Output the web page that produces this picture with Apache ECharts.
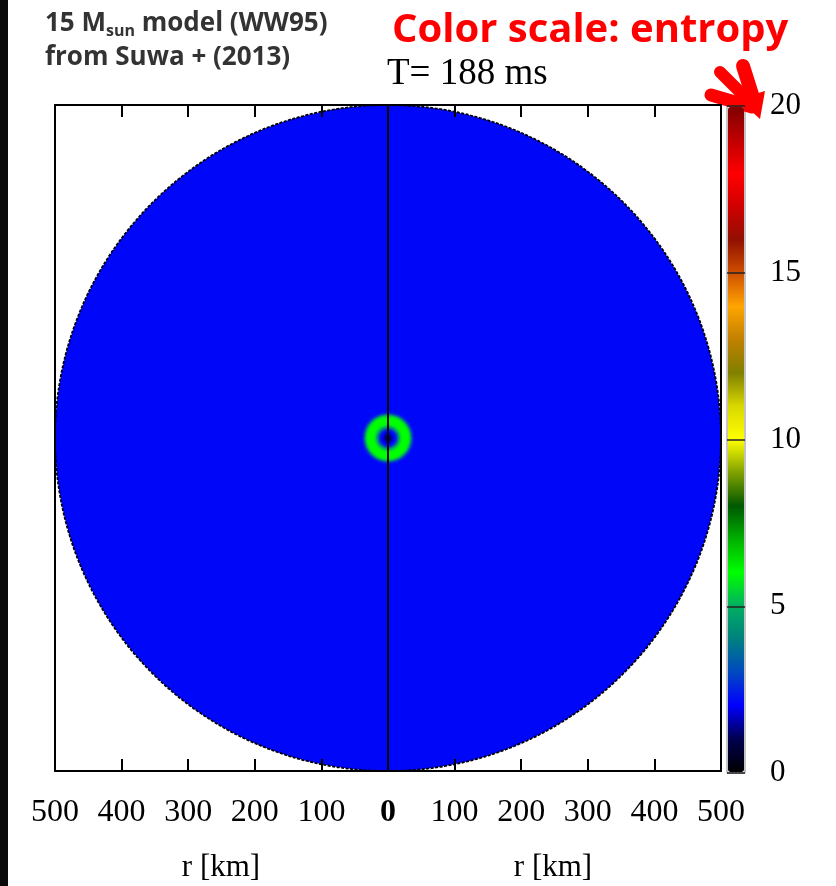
<!DOCTYPE html>
<html>
<head>
<meta charset="utf-8">
<script src="https://cdn.jsdelivr.net/npm/echarts@6/dist/echarts.min.js"></script>
<style>
  html, body { margin: 0; padding: 0; background: #fff; }
  #chart { width: 836px; height: 886px; }
</style>
</head>
<body>
<div id="chart"></div>
<script>
// Radial entropy profile of the 15 Msun model at T = 188 ms.
// Each shell is given by its outer radius (km) and its entropy (k_B / baryon).
const shellOuterKm = [2, 4, 6, 8, 10, 12, 14, 16, 18, 20, 22, 24, 26, 28, 30, 32, 34, 36, 38, 40, 500];
const shellEntropy = [0.9, 1.1, 1.4, 1.7, 2.0, 2.3, 2.8, 3.9, 4.9, 5.5, 5.9, 6.0, 6.0, 6.0, 6.0, 5.8, 5.3, 4.0, 2.8, 2.3, 2.1];

// Colour bar: one colour per unit of entropy from 0 to 20
const entropyColors = [
  '#000000', '#000050', '#0000ff', '#0048c0', '#008080',
  '#00b060', '#00ff00', '#00b000', '#005800', '#80a000',
  '#ffff00', '#d8d800', '#808000', '#c08000', '#ffa500',
  '#d05000', '#901000', '#d00000', '#ff0000', '#c00000',
  '#800000'
];
const entropyTicks = [0, 5, 10, 15, 20];

// Horizontal axis: distance from the centre, both hemispheres
const radiusTicksKm = [-500, -400, -300, -200, -100, 0, 100, 200, 300, 400, 500];
const axisTitles = ['r [km]', 'r [km]'];

const rMax = Math.max(...shellOuterKm);
// Draw largest shell first so inner shells paint over it
const shellData = shellOuterKm
  .map((r, i) => [r, shellEntropy[i]])
  .sort((a, b) => b[0] - a[0]);

const chart = echarts.init(document.getElementById('chart'), null, { renderer: 'canvas' });

const serif = 'Liberation Serif';
const sans = 'Open Sans';

const boxAxisLine = { show: true, onZero: false, lineStyle: { color: '#000', width: 2 } };

const option = {
  animation: false,
  backgroundColor: '#ffffff',
  title: [
    {
      text: '{a|15 M}{s|sun}{a| model (WW95)}\n{a|from Suwa + (2013)}',
      left: 45,
      top: 7,
      padding: 0,
      textStyle: {
        rich: {
          a: { fontFamily: sans, fontWeight: 'bold', fontSize: 26, color: '#333', lineHeight: 34 },
          s: { fontFamily: sans, fontWeight: 'bold', fontSize: 16, color: '#333', lineHeight: 34, verticalAlign: 'bottom', padding: [0, 0, 2, 0] }
        }
      }
    },
    {
      text: 'Color scale: entropy',
      left: 392,
      top: 11,
      padding: 0,
      textStyle: { fontFamily: sans, fontWeight: 'bold', fontSize: 40, color: '#ff0000' }
    },
    {
      text: 'T= 188 ms',
      left: 387,
      top: 56,
      padding: 0,
      textStyle: { fontFamily: serif, fontWeight: 'normal', fontSize: 37, color: '#000' }
    }
  ],
  grid: [
    { left: 55, top: 105, width: 666, height: 666, show: false },
    { left: 727, top: 106, width: 18, height: 667, show: true, borderColor: '#888', borderWidth: 1, backgroundColor: 'transparent' }
  ],
  xAxis: [
    {
      gridIndex: 0, type: 'value', min: radiusTicksKm[0], max: radiusTicksKm[radiusTicksKm.length - 1], interval: 100,
      position: 'bottom', z: 6,
      axisLine: boxAxisLine,
      axisTick: { show: true, inside: true, length: 12, lineStyle: { color: '#000', width: 2 } },
      axisLabel: {
        show: true, margin: 26, fontFamily: serif, fontSize: 32, color: '#000',
        formatter: v => (v === 0 ? '{b|0}' : String(Math.abs(v))),
        rich: { b: { fontFamily: serif, fontSize: 32, fontWeight: 'bold', color: '#000' } }
      },
      splitLine: { show: false }
    },
    {
      gridIndex: 0, type: 'value', min: radiusTicksKm[0], max: radiusTicksKm[radiusTicksKm.length - 1], interval: 100,
      position: 'top', z: 6,
      axisLine: boxAxisLine,
      axisTick: { show: true, inside: true, length: 12, lineStyle: { color: '#000', width: 2 } },
      axisLabel: { show: false },
      splitLine: { show: false }
    },
    { gridIndex: 1, type: 'value', min: 0, max: 1, show: false }
  ],
  yAxis: [
    {
      gridIndex: 0, type: 'value', min: -rMax, max: rMax, position: 'left', z: 6,
      axisLine: boxAxisLine, axisTick: { show: false }, axisLabel: { show: false }, splitLine: { show: false }
    },
    {
      gridIndex: 0, type: 'value', min: -rMax, max: rMax, position: 'right', z: 6,
      axisLine: boxAxisLine, axisTick: { show: false }, axisLabel: { show: false }, splitLine: { show: false }
    },
    {
      gridIndex: 1, type: 'value', min: entropyTicks[0], max: entropyTicks[entropyTicks.length - 1], interval: 5,
      position: 'right', z: 10,
      axisLine: { show: false },
      axisTick: { show: false },
      splitLine: { show: true, lineStyle: { color: '#222', width: 1.5 } },
      axisLabel: { show: true, margin: 25, fontFamily: serif, fontSize: 31, color: '#000' }
    }
  ],
  visualMap: {
    type: 'continuous',
    min: entropyTicks[0],
    max: entropyTicks[entropyTicks.length - 1],
    dimension: 1,
    seriesIndex: 0,
    calculable: false,
    show: true,
    left: 728,
    top: 107,
    padding: 0,
    itemWidth: 16,
    itemHeight: 665,
    text: null,
    inRange: { color: entropyColors }
  },
  series: [
    {
      type: 'custom',
      name: 'entropy',
      coordinateSystem: 'cartesian2d',
      xAxisIndex: 0,
      yAxisIndex: 0,
      z: 2,
      data: shellData,
      renderItem: (params, api) => {
        const r = api.value(0);
        const c = api.coord([0, 0]);
        const rp = api.size([r, 0])[0];
        const edge = r === rMax;
        return {
          type: 'circle',
          shape: { cx: c[0], cy: c[1], r: rp },
          style: {
            fill: api.visual('color'),
            stroke: edge ? '#000' : null,
            lineWidth: edge ? 1.8 : 0,
            lineDash: edge ? [3, 1.5] : null
          }
        };
      }
    },
    {
      // symmetry axis separating the two hemispheres
      type: 'line',
      xAxisIndex: 0,
      yAxisIndex: 0,
      z: 4,
      symbol: 'none',
      data: [[0, -rMax], [0, rMax]],
      lineStyle: { color: '#000', width: 2 },
      silent: true
    }
  ],
  graphic: [
    { type: 'rect', left: 0, top: 0, shape: { width: 8, height: 886 }, style: { fill: '#0a0a0a' } },
    {
      type: 'text', x: 221, y: 868,
      style: { text: axisTitles[0], font: '31px "Liberation Serif"', fill: '#000', textAlign: 'center', textVerticalAlign: 'middle' }
    },
    {
      type: 'text', x: 553, y: 868,
      style: { text: axisTitles[1], font: '31px "Liberation Serif"', fill: '#000', textAlign: 'center', textVerticalAlign: 'middle' }
    },
    {
      type: 'group',
      z: 20,
      children: [
        { type: 'line', shape: { x1: 743, y1: 66, x2: 755, y2: 104 }, style: { stroke: '#ff0000', lineWidth: 14, lineCap: 'round' } },
        { type: 'line', shape: { x1: 720, y1: 72, x2: 752, y2: 104 }, style: { stroke: '#ff0000', lineWidth: 12, lineCap: 'round' } },
        { type: 'line', shape: { x1: 711, y1: 95, x2: 752, y2: 107 }, style: { stroke: '#ff0000', lineWidth: 13, lineCap: 'round' } },
        { type: 'polygon', shape: { points: [[738, 99], [765, 91], [760, 119]] }, style: { fill: '#ff0000' } }
      ]
    }
  ]
};

chart.setOption(option);
</script>
</body>
</html>
